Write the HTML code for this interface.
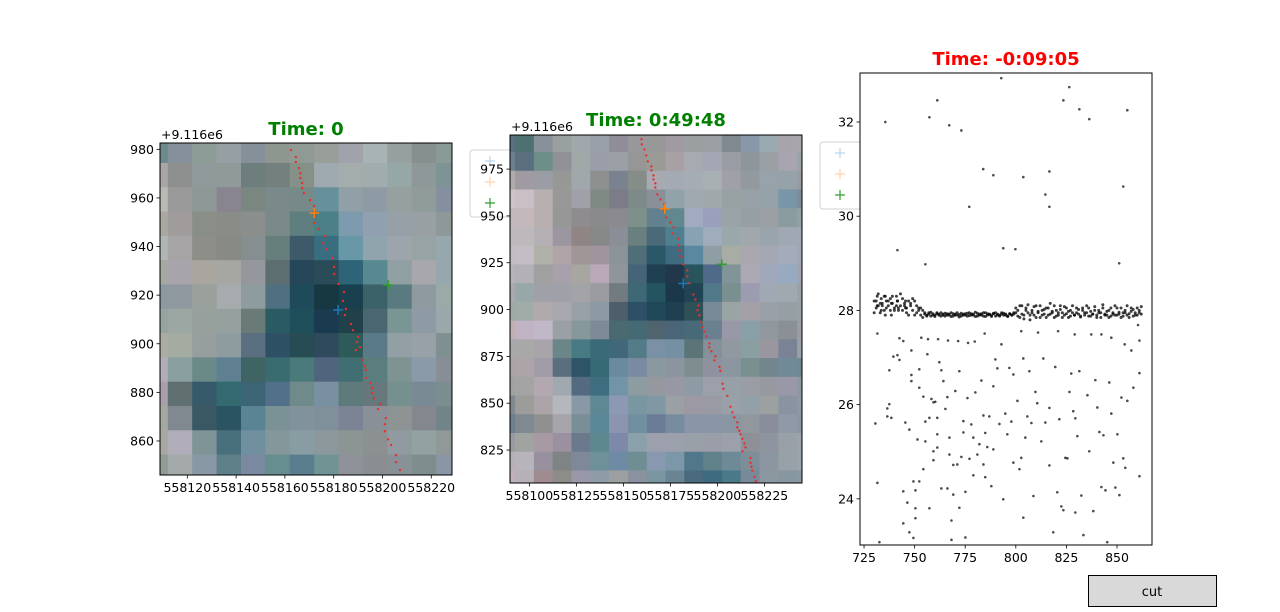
<!DOCTYPE html>
<html><head><meta charset="utf-8"><style>
html,body{margin:0;padding:0;background:#fff;}
svg{display:block;font-family:"DejaVu Sans","Liberation Sans",sans-serif;}
</style></head><body>
<svg id="fig" width="1280" height="612" viewBox="0 0 1280 612">
<rect width="1280" height="612" fill="#fff"/>
<g id="p1"></g>
<g id="p2"></g>
<g id="p3"></g>
<text x="1088" y="586" font-size="13">+5.576e5</text>
<g>
<rect x="1088.5" y="575.5" width="128" height="31" fill="#d9d9d9" stroke="#000" stroke-width="1"/>
<text x="1152" y="596" font-size="13" text-anchor="middle">cut</text>
</g>
</svg>
<script>
// ---------- data ----------
const leftGrid = [
"6b8a8a 86909a 8e9c98 96a0a4 86909a 8e9690 909a94 9a9e9a a0a2ac a8b4b4 96a09e 86908e 8a9a98",
"a8a6a6 8e9090 909a9a 909a98 6e7e7c 74807e 849088 9eaab0 a4acac a0acae 96a8a6 8e9898 7e9494",
"b8bab4 9a9a9a 8e9896 888490 7a8680 7a8a8a 788a88 66909a 90a0a6 8e9aa4 96a09e 909c9a 8490a0",
"aaa8a2 a09c9c 8a8e88 8a8c88 8a8e8c 7a8a88 5e7e80 4a8086 7e9aae 90a0b0 96a0a6 98a0a4 8e9898",
"b0b6b4 a6a4a4 8e8e88 888a84 868e90 667e7c 3e5a6a 386e80 6898a8 90a4ae 9ea4ac 98a4a4 96a8ae",
"a4aaa0 a8a4ac a8a69e a6a6a2 94989c 5c6e70 26465a 2a4c58 2e6478 588890 90a0a2 a8a8ac 96a8ae",
"8a9aa0 9098a0 9aa09c a6acae 8e9ca0 4e7080 1e4a5a 163840 1a4050 3a6268 5a7a82 8e9aa0 9aaaa8",
"94a4a0 9ca6a2 98a09e 96a09e 6a7a76 2a5a62 1e4e5a 1a3a50 20404a 4a6670 7a9694 8e9aa4 9aa8ac",
"acaca2 a4aca2 969e9e 8e9ca0 5a7080 2e5064 284c54 2e4a5c 2e5a5a 5a7a88 92a0a6 98a0a8 7e9090",
"b2acb8 8aa0a0 6a8a88 5e8090 406464 386c70 4a7a7a 50647e 406e72 5a7e7e 7e9492 8a9aa8 888e96",
"a8a0aa 607070 365a6a 326a70 3c6474 52708a 708a8c 7890a0 5e7a7a 66787c 769090 7a8a94 7a8e90",
"a4a89e 808890 3a5864 2a5462 5a8494 7a9296 82929a 80909a 7a8494 8a9098 8e9494 84888e 70848a",
"a8a8a2 b0acba 7e9496 48707c 7090a0 84989c 889ca4 8c989c 8c9494 8c9090 909aa0 92a2a0 909898",
"909c94 a4aaaa 8898a4 5e8088 7a88a0 668e90 5a7e8e 709494 8e9298 8a8e90 889098 7e8e8c 8a96a4"
];
const midGrid = [
"5a7080 4e7070 88909a 9aa0a0 a0a8ac 9aa0aa 908c98 98989a 989898 a09aa2 9aa0a0 9aa0a4 808890 8898a8 9aa8b0 a8a4ac aaa4ac 8a8a9a",
"6e8090 5a7080 6e8e88 909298 a0a8a8 9a9ea8 9aa0a4 969696 9a9a96 a8a0a4 a8aab2 a4a6b4 9a9ea4 8e969c 9aa0a4 a8a4b0 9aa4a4 8c9a9a",
"b0aaac a09aa2 9a9ea4 969896 a0a8ac 8e9090 7a8290 868c88 a8aab2 a4aab4 a6acb4 a8b0b4 a0a0a8 929aa0 98a2aa 96a2aa 969ca0 a2a4aa",
"d0c4c8 c8c0c4 b8b0b0 989898 a0a0a8 808a84 7c7c88 7e8a8a 8a9098 92a2aa a0a8b0 a0a8ac 98a2a4 98a0a8 96a2aa 7896a8 7e8c9a 9aa0a8",
"c0b8bc c4b8bc b8b0b0 969898 8e8c8e 8a8a8c 8a8a90 7e908a 62808e 60888e a2aac0 9aa0bc 9aa4a8 96a0a4 9aa0a4 8a9ca0 94a0a4 a0a8ac",
"bcb8bc bcb8bc b4b0b4 9c96a0 908484 868888 8a8e96 6a807e 4a6a7a 4e8090 88a2b4 9eacbc 9aa8ac a0a8ac 9aa4ac a0a8b4 a0a8b4 9aa4ac",
"c0bcc4 c4bec4 b0b0a8 b0a4a8 a09698 a0949e 8a9498 506e78 2a5868 406a80 5a88a0 8e9ea4 a8aca4 aaa8ae a4a8b4 a4acbc a0a8b4 a0a4b0",
"b8b2ba b4b0b8 a0a0a0 a8a0aa a8a6a0 b8a8b8 8e969c 466478 1e4050 20384a 28545e 4e6a88 80949a aca8b4 a0a8bc 98aac0 a0a4b0 9ca4ac",
"a8aaac 98a8a8 a0a0a8 a0a0a8 a4a4a8 9a9ca0 727c80 3e6876 245460 1a3848 204454 507888 7a9090 9c9cb0 a0a8b4 a0a8b0 9aa2a8 9aa4a8",
"a0a8a8 a0aca8 b0aaac a8a8b0 9aa0a8 8c9aa4 4e5e6a 2e5066 204858 1e4050 305058 788a98 9aa4a4 a4a0a8 9aa0a8 96a0a4 98a0a8 9aa0a8",
"c0b0b4 c0b4c4 c0b8c8 9aa0a4 86989a 7e8a98 4a6a70 466a74 506470 4a6478 486a78 6a8090 9898a8 8aa0a8 90989e 8a9094 9a9ea4 9aa0a4",
"aaa8ac a8a8a8 a8a4aa 6a8688 487a84 3a6a78 40687a 547c88 7a90a4 7490a2 5a7478 84909a 9098a0 8aa0a0 9a96a0 7a8296 98a0a8 5e8090",
"a8a4a4 aca4a8 a09ca8 5a6e80 2e5468 366a74 6a8aa0 7a8aa0 8a98a0 8c94a0 7e8e90 8e929e 8c96a0 7a9090 72868e 728a98 6e8a90 607e90",
"a0a2a2 a4a4a4 b4a8b0 a0a8b0 546a80 3e6e80 7294a8 8c9ca0 9698a0 9898a4 8e9aa4 9ca0aa 96a0a6 9a9ea4 969aa0 9898a8 8c9aa0 6a8898",
"808890 9c9c9a aca4a8 b4b8bc 8898a4 5e8894 8c98b4 7a96a0 8098a4 9aa0a4 9c98a4 9a9aa4 9aa0a8 94a0a8 9ca0a0 8a94a0 8e98a6 8a98a0",
"6e8090 808890 909090 a8a4ac 7a8e98 5a8898 8c94b0 7090a0 6a7c98 788ca0 8a96a8 8a96a8 8a96a4 90989e 8a8e9c 909aa6 8a96a4 9aa0a8",
"9a9aa0 a0a4a0 a89aa4 9a90a0 6a7a8c 5e8890 7e88a8 8aa0aa 9ca0ac 9ca0ac 9aa0a8 9a9ea8 9ca0aa 8e9098 8e94a0 9aa0a8 9aa4aa 8a9aa4",
"b8b0b8 b8b4bc 98909e 7e8484 7e8898 6e9098 6e8aa4 6e8e94 8898b0 7c98a8 50788a 60808a 6e8a98 7e8e98 8c96a0 98a0a8 9aa4ae 8a98a0",
"c0b0b8 b8b0b8 9e8c90 8e8c88 9898a8 8e9ca8 9ca0a0 8a92a0 7a96a0 6a8494 4a6a80 3e6a80 4a7a8a 788a9a 8a98a0 8896a0 8898a4 8a96a4"
];
const trackLX = [162.5,164.5,164.5,165.8,166.3,166.3,167.1,167.1,167.8,170.3,171.9,171.9,171.9,171.9,174,176.5,175.7,176.9,179.4,180.2,180.2,181.9,184.2,183.8,185,184.6,187.1,187.9,190,189.6,190.8,189.1,192,192.8,193.2,193.2,194.9,195.7,195.7,196.5,199,198.2,201.4,201,201,202.3,203.5,205.5,205.5,207.2];
const trackLY = [979.7,976.8,974.8,972.3,970.2,968.2,966.1,964.1,962,959.1,956.7,954.6,952.6,949.7,947.2,944.3,941.4,939,935.3,931.6,928.7,924.6,921.3,917.6,914.3,911.8,908.1,905.6,902.8,900.7,898.6,897.4,893.3,890.8,889.2,885.9,883.8,881.8,879.7,877.6,875.1,873.1,869.4,866.9,864,860.7,858.3,854.2,851.3,848];
const trackMX = [159.6,159.8,161.2,162.2,163,164.9,164.9,166,166,167,167,168.1,169.7,171.8,171.8,172.9,175,176.6,176.1,179.3,179.3,179.8,180.9,181.9,184,184,185.1,187.2,188.3,189.9,189.4,190.4,191.5,192,193.1,194.1,195.7,195.7,196.8,198.9,198.4,201.1,201.6,202.7,203.2,205.3,206.9,208,209,210.6,210.6,211.7,212.2,213.3,214.4,214.9,213.3,217.6,217.6,218.1,218.6,219.7,220.4];
const trackMY = [990.9,988.2,985.5,982.3,979.1,976.4,974.3,971.6,969.5,967.4,965.2,961.5,958.8,956.2,953.5,949.2,946.5,943.9,940.7,938,934.3,931.6,928.4,924.1,920.9,917.7,914,908.1,905.4,902.2,899.6,896.9,893.2,890.5,888.3,885.7,881.9,879.8,877.7,875,872.9,869.4,867.3,860.4,857.7,853.9,848.1,845.1,842.4,839.8,837.1,835.3,833.4,831,828.5,826.4,824.3,820.7,818.2,816.1,814,810.7,808.3];
const markerNames = ["blue","orange","green"];
const markerX = [181.8,172,202.3];
const markerY = [913.9,953.8,924.2];
const leftXTicks = [120,140,160,180,200,220];
const leftYTicks = [860,880,900,920,940,960,980];
const midXTicks = [100,125,150,175,200,225];
const midYTicks = [825,850,875,900,925,950,975];
const rightXTicks = [725,750,775,800,825,850];
const rightYTicks = [24,26,28,30,32];
const outX = [735.5,741.5,755.3,757.3,761.2,767.1,773.1,777,783.9,788.9,792.8,793.8,799.8,803.7,814.6,816.6,816.6,823.5,826.4,831.4,836.3,851.1,853.1,855.1];
const outY = [32.0,29.28,28.98,32.1,32.46,31.93,31.82,30.2,31.0,30.87,32.93,29.32,29.3,30.83,30.46,30.95,30.2,32.46,32.74,32.27,32.06,29.0,30.63,32.25];
const lowX = [730.6,731.6,732.6,731.6,737.5,736.5,737.5,736.5,738.5,739.5,741.5,742.5,742.5,744.4,744.4,744.4,745.4,746.4,747.4,747.4,748.4,748.4,748.4,749.4,749.4,750.4,750.4,750.4,751.4,752.3,752.3,752.3,753.3,754.3,754.3,755.3,755.3,756.3,757.3,757.3,758.3,759.3,759.3,759.3,760.2,761.2,761.2,761.2,762.2,763.2,763.2,764.2,765.2,766.2,766.2,767.2,767.2,768.2,768.2,769.1,769.1,770.1,771.1,772.1,772.1,773.1,774.1,774.1,775.1,775.1,776.1,777.1,778.0,779.0,779.0,780.0,781.0,782.0,783.0,784.0,784.0,784.9,784.9,785.9,786.9,787.9,788.9,788.9,789.9,790.9,791.9,792.9,793.8,794.8,795.8,796.8,797.8,798.8,798.8,800.8,801.8,802.7,803.7,803.7,804.7,805.7,806.7,807.7,808.7,809.7,810.6,812.6,813.6,814.6,816.6,816.6,818.5,819.5,820.5,821.5,822.5,823.5,824.5,825.5,826.5,827.4,828.4,829.4,829.4,830.4,831.4,832.4,833.4,835.4,836.3,838.3,839.3,840.3,841.3,842.3,843.3,844.3,845.2,846.2,847.2,848.2,849.2,850.2,851.2,852.2,853.1,854.1,855.1,857.1,858.1,861.1,861.1,861.1,860.4,756.6,761.6,766.5,771.5,776.4,779.7,784.6,802.7,811,820.9,829.1,837.3,842.3,847.2,853.8];
const lowY = [25.60,24.34,23.08,27.51,26.73,25.92,26.01,25.75,25.72,27.02,27.05,26.95,27.41,27.35,24.16,23.48,25.62,23.92,25.47,23.29,27.15,26.63,26.50,24.37,23.17,24.18,23.59,23.80,25.26,26.36,24.37,26.75,27.42,26.17,24.63,25.22,25.64,27.07,25.72,23.80,26.12,26.05,25.01,24.82,26.06,25.72,25.37,25.09,26.90,26.73,24.22,26.50,25.91,24.22,26.16,24.94,25.30,23.54,23.13,24.72,24.09,26.29,24.73,23.81,26.71,24.89,25.65,25.41,24.15,23.18,26.14,24.85,25.58,25.30,24.50,26.26,24.94,25.16,26.51,24.73,25.77,25.40,24.46,25.10,25.75,24.27,26.39,25.05,26.96,26.77,25.59,27.28,23.99,25.81,25.37,26.78,25.64,26.64,24.77,26.08,24.63,24.87,23.60,26.98,25.30,25.75,26.71,25.61,24.06,26.27,26.03,25.22,26.98,25.62,24.71,25.93,23.29,26.80,24.14,25.69,23.84,23.76,24.87,24.86,26.27,26.66,25.86,25.71,23.71,25.33,26.71,24.07,23.23,26.20,25.01,23.74,26.52,25.94,25.42,24.25,25.35,24.18,23.08,26.47,25.81,24.77,24.24,25.37,24.08,26.15,24.86,24.66,26.08,27.15,26.36,26.67,24.48,27.36,27.69,27.39,27.39,27.36,27.35,27.31,27.34,27.51,27.56,27.53,27.56,27.49,27.49,27.49,27.42,27.28];
const bandX = [730,731,731.5,732,733,733.5,734,735,735.5,736,737,738,738.5,739,740,741,741.5,742,743,744,745,745.5,746,747,748,749,750,751,752,753,754,755,756,757,758,759,760,761,762,763,764,765,766,767,768,769,770,771,772,773,774,775,776,777,778,779,780,781,782,783,784,785,786,787,788,789,790,791,792,793,794,795,796,797,798,799,800,801,802,803,804,805,806,807,808,809,810,811,812,813,814,815,816,817,818,819,820,821,822,823,824,825,826,827,828,829,830,831,832,833,834,835,836,837,838,839,840,841,842,843,844,845,846,847,848,849,850,851,852,853,854,855,856,857,858,859,860,861,862];
const bandYa = [28.2,28.05,28.3,28.1,27.95,28.25,28.15,28.0,28.3,28.2,28.1,28.25,27.9,28.15,28.05,28.3,28.2,28.0,28.1,28.25,28.15,28.05,27.95,28.2,28.1,28.0,28.2,27.95,28.05,27.9,28.0,
27.92,27.9,27.95,27.88,27.93,27.9,27.95,27.92,27.88,27.9,27.94,27.9,27.92,27.87,27.93,27.9,27.95,27.91,27.88,27.92,27.9,27.94,27.89,27.93,27.9,27.96,27.88,27.92,27.9,27.95,27.87,27.93,27.91,27.9,27.94,27.88,27.92,27.9,27.95,27.9,27.92,27.88,27.93,27.9,27.95,
27.95,28.0,27.85,28.1,27.9,28.05,27.95,27.8,28.0,27.9,28.1,27.95,27.85,28.0,27.92,28.05,27.9,28.15,27.95,27.85,28.0,27.9,28.1,27.95,27.9,28.05,27.85,28.0,27.95,27.9,28.05,27.92,27.88,28.0,27.9,27.95,28.05,27.88,27.92,28.0,27.9,27.95,27.85,28.05,27.92,27.9,28.0,27.88,27.95,27.9,28.05,27.92,27.85,27.95,28.0,27.9,27.93,28.05,27.88,27.95,27.9,28.0,27.92];
const bandYb = [27.95,28.2,28.1,28.35,28.15,28.0,28.1,28.3,27.9,28.05,28.2,28.0,28.15,28.3,28.0,28.1,28.2,28.05,28.35,28.0,28.1,28.2,28.05,27.9,28.15,28.25,27.9,28.1,28.0,28.05,27.85,
27.95,27.88,27.92,27.96,27.9,27.87,27.93,27.9,27.95,27.92,27.88,27.93,27.9,27.95,27.88,27.92,27.9,27.86,27.94,27.9,27.93,27.88,27.95,27.9,27.92,27.87,27.94,27.9,27.93,27.88,27.95,27.9,27.92,27.87,27.93,27.95,27.9,27.88,27.92,27.94,27.9,27.87,27.93,27.9,27.92,
28.05,27.88,28.1,27.92,27.82,28.0,28.12,27.9,27.95,28.08,27.85,27.98,28.1,27.9,28.02,27.85,28.05,27.92,27.98,28.1,27.88,27.95,28.02,27.85,28.08,27.93,27.98,27.88,28.1,27.9,27.95,28.02,27.86,28.05,27.95,28.1,27.88,27.98,27.92,28.08,27.85,28.0,27.95,28.12,27.9,27.98,27.85,28.05,27.92,28.1,27.9,27.96,28.05,27.88,27.95,28.1,27.85,27.98,28.02,27.9,28.05,27.95,28.08];

// ---------- helpers ----------
const NS = "http://www.w3.org/2000/svg";
const TICK_FS = 12.5;
function mk(tag, attrs, parent) {
  const e = document.createElementNS(NS, tag);
  for (const k in attrs) e.setAttribute(k, attrs[k]);
  parent.appendChild(e);
  return e;
}
function makeAxis(box, dx, dy) {
  return {
    box: box,
    sx: v => box.x0 + (v - dx[0]) / (dx[1] - dx[0]) * (box.x1 - box.x0),
    sy: v => box.y1 - (v - dy[0]) / (dy[1] - dy[0]) * (box.y1 - box.y0)
  };
}
const markerColors = {blue:"#1f77b4", orange:"#ff7f0e", green:"#2ca02c"};

function drawLegend(g, x, y) {
  const lg = mk("g", {}, g);
  
  
  mk("rect", {x:x, y:y, width:52, height:67, rx:3, fill:"#fff", stroke:"#d0d0d0", "stroke-width":1}, lg);
  const cols = ["#b9d4ea", "#ffd2b0", "#2ca02c"];
  for (let i = 0; i < 3; i++) {
    const cx = x + 20, cy = y + 11 + i * 21;
    const m = mk("path", {d:`M${cx-5},${cy}H${cx+5}M${cx},${cy-5}V${cy+5}`, stroke:cols[i], "stroke-width":1.2, fill:"none"}, lg);
    
    
  }
}

function drawImagePanel(g, ax, grid, cx0, cy0, cell, trackX, trackY, xt, yt, xfmt, titleText, titleY, clipId) {
  const b = ax.box;
  mk("rect", {x:b.x0, y:b.y0, width:b.x1-b.x0, height:b.y1-b.y0, fill:"#fff"}, g);
  const defs = mk("defs", {}, g);
  const cp = mk("clipPath", {id:clipId}, defs);
  mk("rect", {x:b.x0, y:b.y0, width:b.x1-b.x0, height:b.y1-b.y0}, cp);
  const img = mk("g", {"clip-path":`url(#${clipId})`}, g);
  
  
  grid.forEach((row, r) => {
    row.split(" ").forEach((c, k) => {
      const xa = ax.sx(cx0 + (k - 1) * cell), xb = ax.sx(cx0 + k * cell);
      const ya = ax.sy(cy0 - (r - 1) * cell), yb = ax.sy(cy0 - r * cell);
      const rc = mk("rect", {x:xa, y:ya, width:xb-xa+0.6, height:yb-ya+0.6, fill:"#"+c}, img);
      
      
    });
  });
  const tr = mk("g", {"clip-path":`url(#${clipId})`}, g);
  
  
  for (let i = 0; i < Math.min(trackX.length, trackY.length); i++) {
    const d = mk("circle", {cx:ax.sx(trackX[i]), cy:ax.sy(trackY[i]), r:1.2, fill:"#e8302a"}, tr);
    
    
  }
  for (let i = 0; i < markerX.length; i++) {
    const px = ax.sx(markerX[i]), py = ax.sy(markerY[i]);
    const m = mk("path", {d:`M${px-5},${py}H${px+5}M${px},${py-5}V${py+5}`, stroke:markerColors[markerNames[i]], "stroke-width":1.5, fill:"none"}, g);
    
    
  }
  mk("rect", {x:b.x0, y:b.y0, width:b.x1-b.x0, height:b.y1-b.y0, fill:"none", stroke:"#000", "stroke-width":1}, g);
  drawTicks(g, ax, xt, yt, xfmt, v => String(v));
  const off = mk("text", {x:b.x0+1, y:b.y0-4, "font-size":TICK_FS}, g);
  off.textContent = "+9.116e6";
  
  
  const t = mk("text", {x:(b.x0+b.x1)/2, y:titleY, "font-size":18, "font-weight":"bold", fill:"#008000", "text-anchor":"middle"}, g);
  t.textContent = titleText;
  
  
}

function drawTicks(g, ax, xt, yt, xfmt, yfmt) {
  const b = ax.box;
  xt.forEach(v => {
    const x = ax.sx(v);
    mk("line", {x1:x, x2:x, y1:b.y1, y2:b.y1+3.5, stroke:"#000", "stroke-width":0.8}, g);
    const t = mk("text", {x:x, y:b.y1+17, "font-size":TICK_FS, "text-anchor":"middle"}, g);
    t.textContent = xfmt(v);
    
    
  });
  yt.forEach(v => {
    const y = ax.sy(v);
    mk("line", {x1:b.x0-3.5, x2:b.x0, y1:y, y2:y, stroke:"#000", "stroke-width":0.8}, g);
    const t = mk("text", {x:b.x0-6, y:y+4.5, "font-size":TICK_FS, "text-anchor":"end"}, g);
    t.textContent = yfmt(v);
    
    
  });
}

// ---------- panels ----------
const p1 = document.getElementById("p1");
const p2 = document.getElementById("p2");
const p3 = document.getElementById("p3");

const axL = makeAxis({x0:160, x1:452, y0:143, y1:475}, [108.8, 228.5], [846, 982.6]);
drawLegend(p1, 470, 150);
drawImagePanel(p1, axL, leftGrid, 112, 974.4, 10, trackLX, trackLY, leftXTicks, leftYTicks, v => String(558000 + v), "Time: 0", 135, "clipL");

const axM = makeAxis({x0:510, x1:802, y0:135, y1:483}, [89.7, 245], [807.4, 993.2]);
drawLegend(p2, 820, 142);
drawImagePanel(p2, axM, midGrid, 92.4, 984.1, 10, trackMX, trackMY, midXTicks, midYTicks, v => String(558000 + v), "Time: 0:49:48", 126, "clipM");

const axR = makeAxis({x0:860, x1:1152, y0:73, y1:545}, [723, 867.3], [23.02, 33.04]);
mk("rect", {x:860, y:73, width:292, height:472, fill:"#fff"}, p3);
const sc = mk("g", {}, p3);


function dots(xs, ys, r, op) {
  for (let i = 0; i < Math.min(xs.length, ys.length); i++) {
    const c = mk("circle", {cx:axR.sx(xs[i]), cy:axR.sy(ys[i]), r:r, fill:"#000", "fill-opacity":op}, sc);
    
    
  }
}
dots(outX, outY, 1.3, 0.7);
dots(lowX, lowY, 1.3, 0.7);
dots(bandX, bandYa, 1.5, 0.75);
dots(bandX, bandYb, 1.5, 0.75);
mk("rect", {x:860, y:73, width:292, height:472, fill:"none", stroke:"#000", "stroke-width":1}, p3);
drawTicks(p3, axR, rightXTicks, rightYTicks, v => String(v), v => String(v));
const t3 = mk("text", {x:1006, y:65, "font-size":18, "font-weight":"bold", fill:"#ff0000", "text-anchor":"middle"}, p3);
t3.textContent = "Time: -0:09:05";


</script>
</body></html>
